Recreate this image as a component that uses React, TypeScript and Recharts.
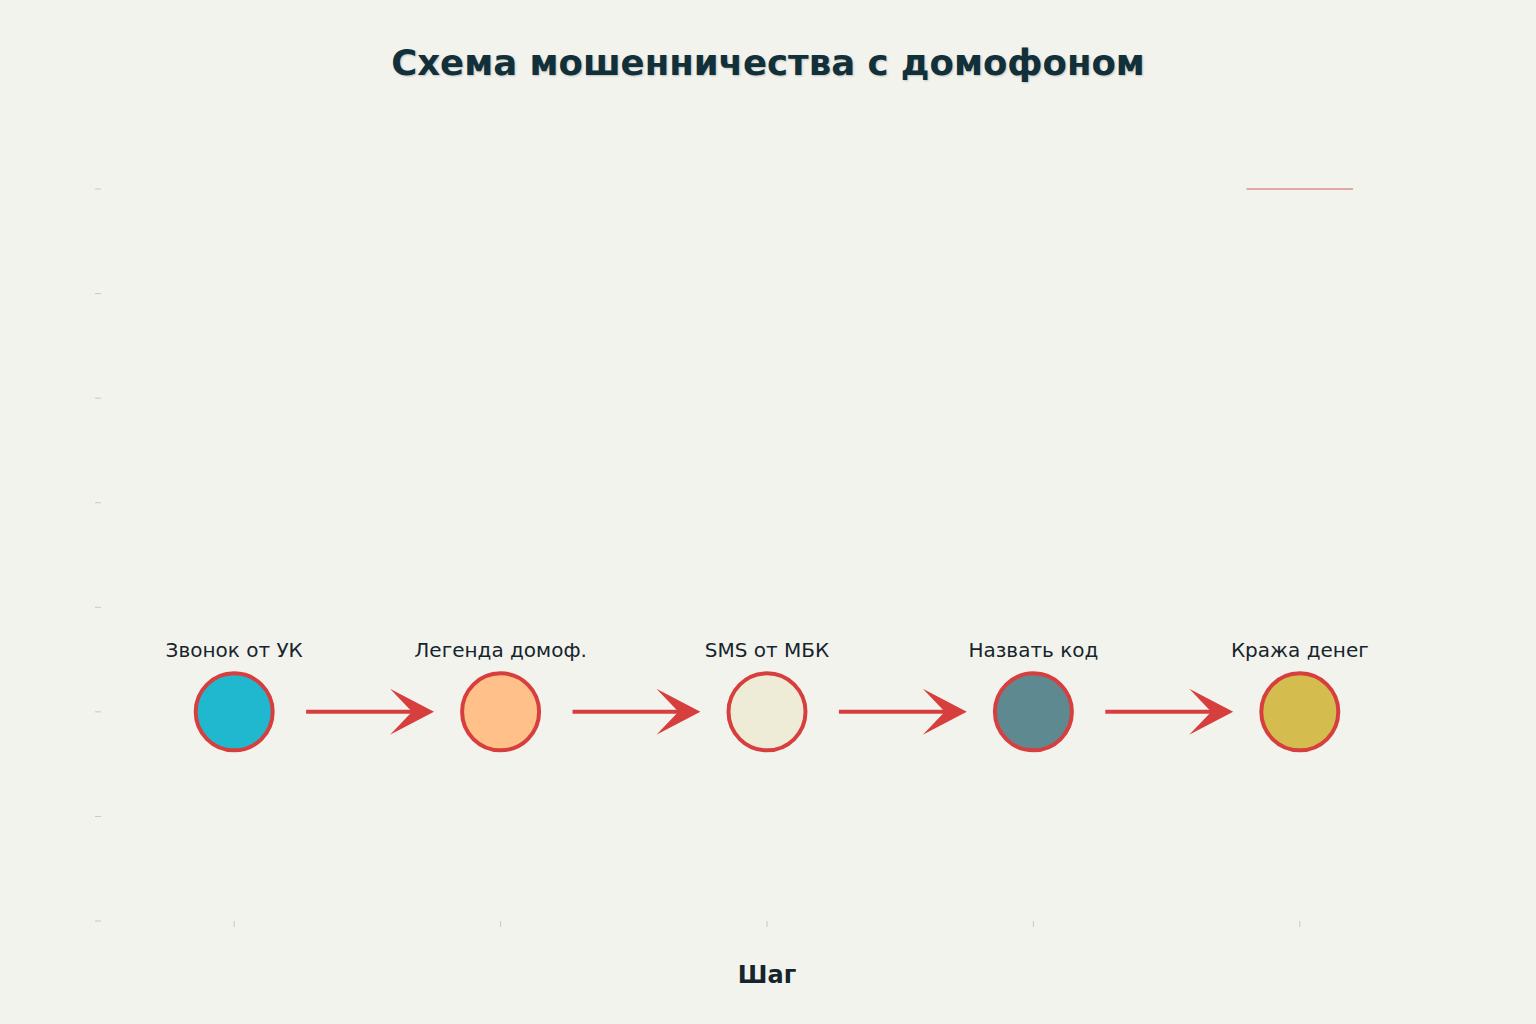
import React from 'react'
import {
  ComposedChart, Scatter, XAxis, YAxis, ReferenceLine, Cell
} from 'recharts'

// steps of the scheme, left to right
const stepNames = ['Звонок от УК', 'Легенда домоф.', 'SMS от МБК', 'Назвать код', 'Кража денег']
const stepColors = ['#1fb8cf', '#ffc089', '#eeebd7', '#5e8990', '#d4bc4e']
const stepLevel = [0, 0, 0, 0, 0]
const yTicks = [-2, -1, 0, 1, 2, 3, 4, 5]
const xTicks = [0, 1, 2, 3, 4]

// how far the arrows stay away from the step circles (in step units)
const arrowStartGap = 0.27
const arrowEndGap = 0.25

const RED = '#d73f3f'
const INK = '#16242c'

const steps = stepNames.map((name, i) => ({ x: i, y: stepLevel[i], name }))
const arrows = steps.slice(0, -1).map((s, i) => ({
  from: s.x + arrowStartGap,
  to: steps[i + 1].x - arrowEndGap,
  y: s.y,
}))

function StepNode(props: any) {
  const { cx, cy, fill, payload } = props
  return (
    <g>
      <text x={cx} y={cy - 62} textAnchor="middle" dominantBaseline="central"
        fontSize={20} fill={INK} fontFamily="DejaVu Sans">
        {payload.name}
      </text>
      <circle cx={cx} cy={cy} r={38.5} fill={fill} stroke={RED} strokeWidth={4} />
    </g>
  )
}

function Arrow(props: any) {
  const { x1, y1, x2 } = props
  const y = y1
  const head = `M${x2},${y} L${x2 - 44},${y - 23} L${x2 - 22},${y} L${x2 - 44},${y + 23} Z`
  return (
    <g>
      <line x1={x1} y1={y} x2={x2 - 20} y2={y} stroke={RED} strokeWidth={4} />
      <path d={head} fill={RED} />
    </g>
  )
}

const blank = () => ''

export default function App() {
  return (
    <div style={{ position: 'absolute', left: 0, top: 0, width: 1536, height: 1024, background: '#f3f3ee' }}>
      <div style={{
        position: 'absolute', left: 0, top: 41, width: 1536, textAlign: 'center',
        fontFamily: 'DejaVu Sans', fontWeight: 'bold', fontSize: 35.5, color: '#12303a',
        textShadow: '1px 1px 2px rgba(0,0,0,0.2)', lineHeight: '44px',
      }}>
        Схема мошенничества с домофоном
      </div>
      <ComposedChart width={1536} height={1024}
        margin={{ top: 189, right: 103, bottom: 33, left: 91 }}
        style={{ fontFamily: 'DejaVu Sans' }}>
        <XAxis type="number" dataKey="x" domain={[-0.5, 4.5]} ticks={xTicks}
          axisLine={false} tickFormatter={blank} tickLine={{ stroke: '#c9c9c1' }} height={70}
          label={{ value: 'Шаг', position: 'insideBottom', offset: 8, fontSize: 24, fontWeight: 'bold', fill: INK }} />
        <YAxis type="number" dataKey="y" domain={[-2, 5]} ticks={yTicks}
          axisLine={false} tickFormatter={blank} tickLine={{ stroke: '#c9c9c1' }} width={10} />
        <ReferenceLine segment={[{ x: 3.8, y: 5 }, { x: 4.2, y: 5 }]}
          stroke="#d04a4a" strokeOpacity={0.6} strokeWidth={1.5} />
        {arrows.map((a, i) => (
          <ReferenceLine key={i} segment={[{ x: a.from, y: a.y }, { x: a.to, y: a.y }]}
            shape={(p: any) => <Arrow {...p} />} />
        ))}
        <Scatter data={steps} shape={(p: any) => <StepNode {...p} />} isAnimationActive={false}>
          {steps.map((s, i) => <Cell key={i} fill={stepColors[i]} />)}
        </Scatter>
      </ComposedChart>
    </div>
  )
}
